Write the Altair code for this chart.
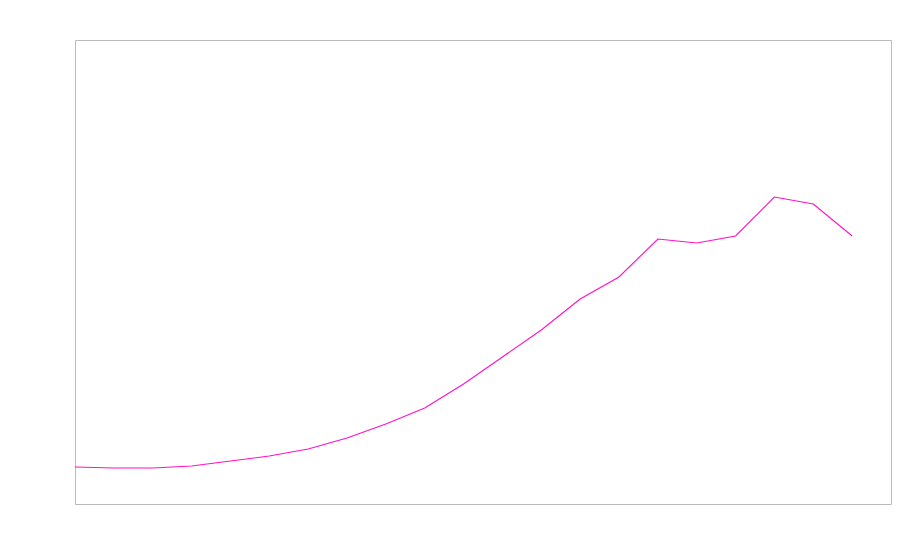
import altair as alt
import pandas as pd

x_idx = list(range(21))
values = [37, 36, 36, 38, 43, 48, 55, 66, 80, 96, 120, 147, 174, 205, 227, 265, 261, 268, 307, 300, 268]

df = pd.DataFrame({"x": x_idx, "y": values})

chart = alt.Chart(df).mark_line(color="#ff10c8", strokeWidth=1.1).encode(
    x=alt.X("x:Q", axis=None, scale=alt.Scale(domain=[0, 21], nice=False, zero=False)),
    y=alt.Y("y:Q", axis=None, scale=alt.Scale(domain=[0, 464], nice=False)),
).properties(
    width=816,
    height=464,
    autosize="none",
    padding={"left": 67, "top": 32, "right": 1, "bottom": 8},
).configure_view(stroke="#bbbbbb", strokeWidth=1)

chart.save("out.html", embed_options={"renderer": "svg", "actions": False})
